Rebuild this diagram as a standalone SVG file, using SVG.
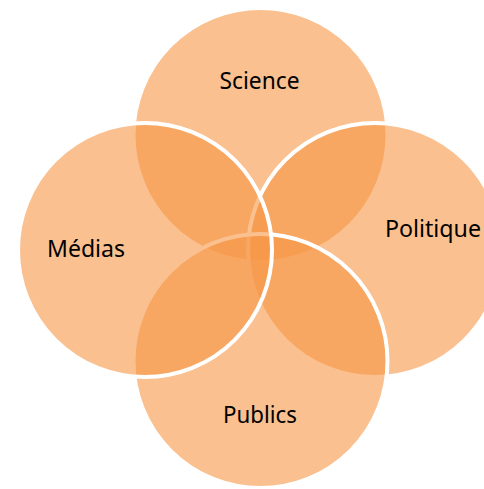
<svg xmlns="http://www.w3.org/2000/svg" width="484" height="489" viewBox="0 0 484 489">
<style>
.c{fill:#F79646;fill-opacity:0.6;stroke:#FFFFFF;stroke-width:4}
.t{font-family:"Noto Sans","Open Sans","Liberation Sans",sans-serif;font-size:23px;fill:#000;text-anchor:middle}
</style>
<rect width="484" height="489" fill="#FFFFFF"/>
<g id="science"><circle class="c" cx="260.5" cy="135" r="127"/></g>
<g id="politique"><circle class="c" cx="375" cy="250" r="127"/></g>
<g id="publics"><circle class="c" cx="260.5" cy="361" r="127"/></g>
<g id="medias"><circle class="c" cx="145" cy="250" r="127"/></g>
<g id="labels">
<text class="t" x="259.5" y="89" textLength="80" lengthAdjust="spacingAndGlyphs">Science</text>
<text class="t" x="433" y="237" textLength="96" lengthAdjust="spacingAndGlyphs">Politique</text>
<text class="t" x="260" y="423" textLength="74" lengthAdjust="spacingAndGlyphs">Publics</text>
<text class="t" x="86" y="257" textLength="78" lengthAdjust="spacingAndGlyphs">Médias</text>
</g>
</svg>
